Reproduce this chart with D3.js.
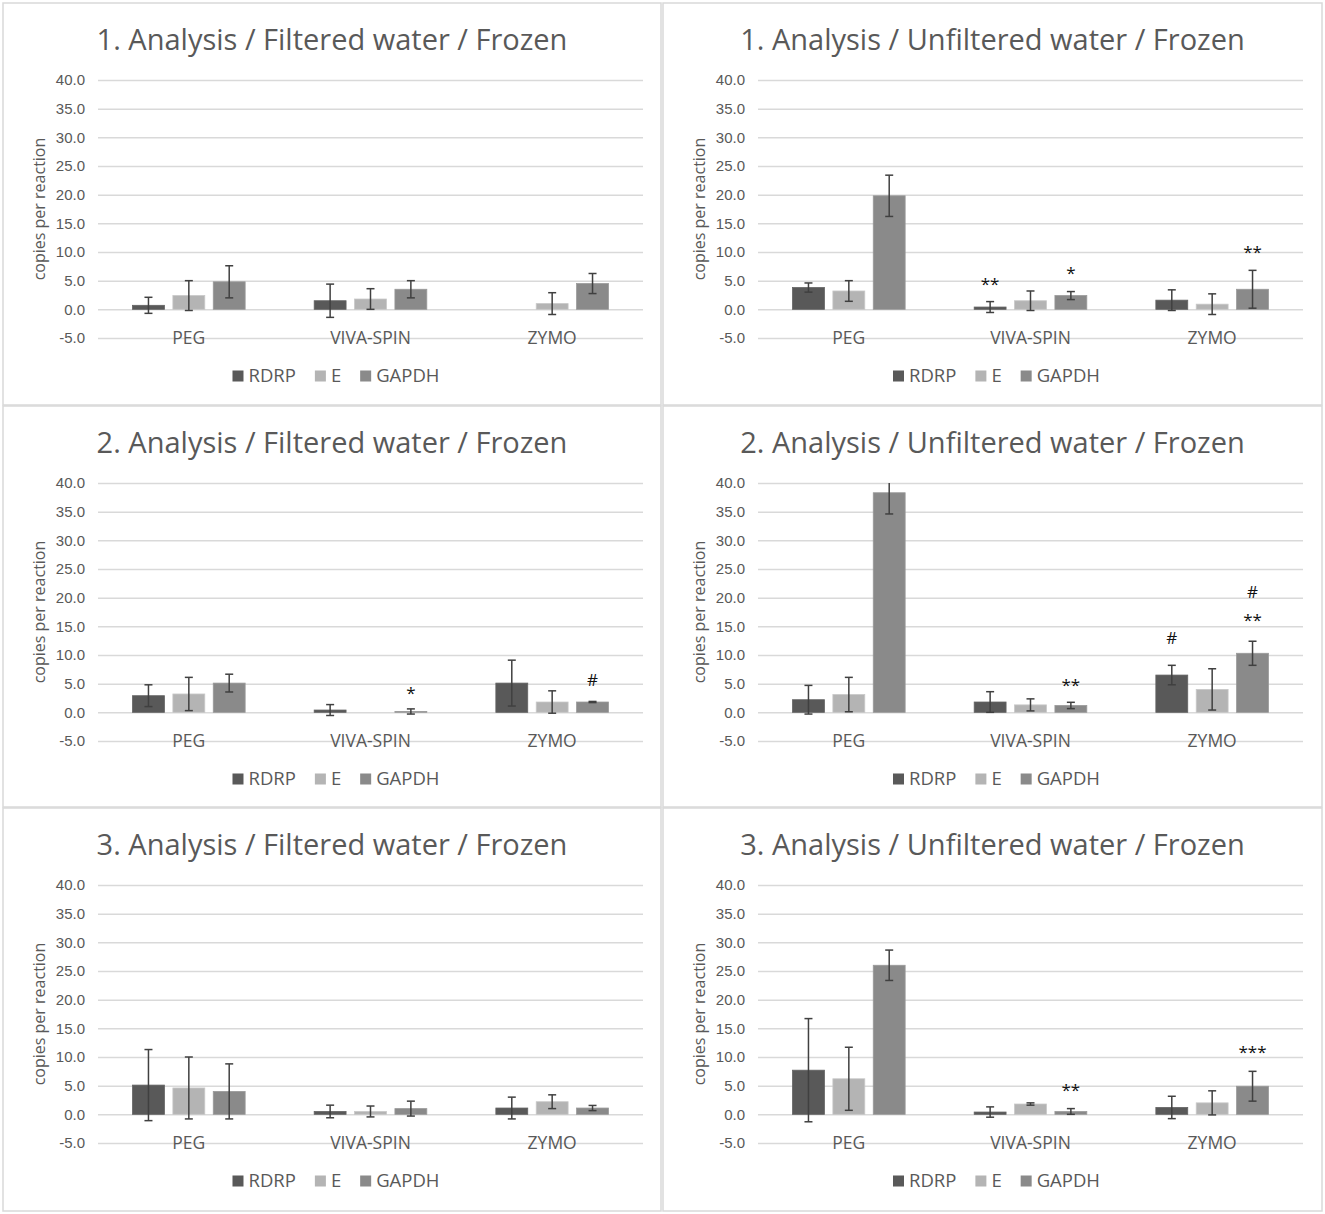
<!DOCTYPE html>
<html>
<head>
<meta charset="utf-8">
<script src="https://cdn.jsdelivr.net/npm/d3@7"></script>
<style>
  body { margin: 0; background: #fff; }
  svg { display: block; font-family: "Open Sans", Lato, sans-serif; }
</style>
</head>
<body>
<div id="chart"></div>
<script>
// categories and series
var methods = ["PEG", "VIVA-SPIN", "ZYMO"];
var targets = ["RDRP", "E", "GAPDH"];
var yTicks = [-5, 0, 5, 10, 15, 20, 25, 30, 35, 40];

var titles = [
  "1. Analysis / Filtered water / Frozen",
  "1. Analysis / Unfiltered water / Frozen",
  "2. Analysis / Filtered water / Frozen",
  "2. Analysis / Unfiltered water / Frozen",
  "3. Analysis / Filtered water / Frozen",
  "3. Analysis / Unfiltered water / Frozen"
];

// means, one row per method: [RDRP, E, GAPDH]   (null = no bar)
var a1Filtered   = [[0.7, 2.4, 4.8], [1.5, 1.8, 3.5], [null, 1.0, 4.5]];
var a1Unfiltered = [[3.8, 3.2, 19.8], [0.4, 1.5, 2.4], [1.6, 0.9, 3.5]];
var a2Filtered   = [[2.9, 3.2, 5.1], [0.4, null, 0.15], [5.1, 1.8, 1.8]];
var a2Unfiltered = [[2.2, 3.1, 38.3], [1.8, 1.3, 1.2], [6.5, 4.0, 10.3]];
var a3Filtered   = [[5.1, 4.6, 4.0], [0.5, 0.5, 1.0], [1.1, 2.2, 1.1]];
var a3Unfiltered = [[7.7, 6.2, 26.0], [0.4, 1.8, 0.5], [1.2, 2.0, 4.9]];

// error bar half widths
var a1FilteredErr   = [[1.4, 2.6, 2.8], [2.9, 1.8, 1.5], [null, 1.9, 1.75]];
var a1UnfilteredErr = [[0.8, 1.8, 3.6], [0.95, 1.7, 0.7], [1.8, 1.8, 3.3]];
var a2FilteredErr   = [[1.9, 2.9, 1.55], [0.95, null, 0.45], [4.0, 1.95, 0.1]];
var a2UnfilteredErr = [[2.5, 3.0, 3.7], [1.8, 1.05, 0.55], [1.7, 3.6, 2.1]];
var a3FilteredErr   = [[6.2, 5.4, 4.8], [1.1, 0.95, 1.3], [1.9, 1.2, 0.45]];
var a3UnfilteredErr = [[9.0, 5.5, 2.65], [0.9, 0.2, 0.5], [1.95, 2.1, 2.6]];

// significance marks: [method, target, label, y value]
var a1FilteredMarks   = [];
var a1UnfilteredMarks = [["VIVA-SPIN", "RDRP", "**", 5.2], ["VIVA-SPIN", "GAPDH", "*", 7.1], ["ZYMO", "GAPDH", "**", 10.7]];
var a2FilteredMarks   = [["VIVA-SPIN", "GAPDH", "*", 4.1], ["ZYMO", "GAPDH", "#", 5.7]];
var a2UnfilteredMarks = [["VIVA-SPIN", "GAPDH", "**", 5.4], ["ZYMO", "RDRP", "#", 13.0], ["ZYMO", "GAPDH", "**", 16.8], ["ZYMO", "GAPDH", "#", 21.0]];
var a3FilteredMarks   = [];
var a3UnfilteredMarks = [["VIVA-SPIN", "GAPDH", "**", 5.0], ["ZYMO", "GAPDH", "***", 11.6]];

var means = [a1Filtered, a1Unfiltered, a2Filtered, a2Unfiltered, a3Filtered, a3Unfiltered];
var errs = [a1FilteredErr, a1UnfilteredErr, a2FilteredErr, a2UnfilteredErr, a3FilteredErr, a3UnfilteredErr];
var marks = [a1FilteredMarks, a1UnfilteredMarks, a2FilteredMarks, a2UnfilteredMarks, a3FilteredMarks, a3UnfilteredMarks];

var colors = d3.scaleOrdinal().domain(targets).range(["#595959", "#b4b4b4", "#8a8a8a"]);
var textColor = "#595959";
var gridColor = "#d9d9d9";

var W = 1325, H = 1214;
var colX = [3, 663], colW = [658, 659];
var rowY = [3, 406, 808], rowH = [402, 401, 403];

var svg = d3.select("#chart").append("svg")
  .attr("width", W)
  .attr("height", H);

function drawPanel(i) {
  var px = colX[i % 2], py = rowY[Math.floor(i / 2)];
  var pw = colW[i % 2], ph = rowH[Math.floor(i / 2)];
  var g = svg.append("g").attr("transform", "translate(" + px + "," + py + ")");

  g.append("rect")
    .attr("x", 0).attr("y", 0).attr("width", pw).attr("height", ph)
    .attr("fill", "#fff").attr("stroke", gridColor).attr("stroke-width", 1.5);

  g.append("text")
    .attr("x", pw / 2).attr("y", 47)
    .attr("text-anchor", "middle")
    .attr("fill", textColor)
    .style("font-size", "29px")
    .text(titles[i]);

  var left = 95, right = 640;
  var y = d3.scaleLinear().domain([-5, 40]).range([335, 77]);
  var x = d3.scaleBand().domain(methods).range([left, right]);
  var bw = x.bandwidth();
  var xi = d3.scaleBand().domain(targets).range([bw * 0.19, bw * 0.81]).paddingInner(0.21);

  // gridlines + tick labels
  var yAxis = g.append("g")
    .attr("transform", "translate(" + left + ",0)")
    .call(d3.axisLeft(y).tickValues(yTicks).tickFormat(function (d) { return d.toFixed(1); })
      .tickSize(-(right - left)).tickPadding(13));
  yAxis.select(".domain").remove();
  yAxis.selectAll(".tick line").attr("stroke", gridColor).attr("stroke-width", 1.5);
  yAxis.selectAll(".tick text").attr("fill", textColor)
    .style("font-size", "15px").style("font-family", null);

  // y title
  g.append("text")
    .attr("transform", "translate(36," + (y(-5) + y(40)) / 2 + ") rotate(-90)")
    .attr("text-anchor", "middle")
    .attr("dy", "0.35em")
    .attr("fill", textColor)
    .style("font-size", "16px")
    .text("copies per reaction");

  // category labels
  g.selectAll(".cat").data(methods).enter().append("text")
    .attr("x", function (d) { return x(d) + bw / 2; })
    .attr("y", y(-5) + 6)
    .attr("text-anchor", "middle")
    .attr("fill", textColor)
    .style("font-size", "17.5px")
    .text(function (d) { return d; });

  var clipId = "clip" + i;
  g.append("clipPath").attr("id", clipId).append("rect")
    .attr("x", left).attr("y", y(40)).attr("width", right - left).attr("height", y(-5) - y(40));

  var rows = [];
  methods.forEach(function (m, mi) {
    targets.forEach(function (t, ti) {
      var v = means[i][mi][ti];
      if (v === null) return;
      rows.push({ method: m, target: t, value: v, err: errs[i][mi][ti] });
    });
  });

  var plot = g.append("g").attr("clip-path", "url(#" + clipId + ")");

  plot.selectAll(".bar").data(rows).enter().append("rect")
    .attr("x", function (d) { return x(d.method) + xi(d.target); })
    .attr("width", xi.bandwidth())
    .attr("y", function (d) { return Math.min(y(d.value), y(0)); })
    .attr("height", function (d) { return Math.abs(y(0) - y(d.value)); })
    .attr("fill", function (d) { return colors(d.target); })
    .attr("stroke", function (d) { return d3.color(colors(d.target)).brighter(0.3); })
    .attr("stroke-width", 0.8);

  var eb = plot.selectAll(".err").data(rows.filter(function (d) { return d.err !== null; }))
    .enter().append("g")
    .attr("stroke", "#404040")
    .attr("stroke-width", 1.5);
  var cx = function (d) { return x(d.method) + xi(d.target) + xi.bandwidth() / 2; };
  eb.append("line")
    .attr("x1", cx).attr("x2", cx)
    .attr("y1", function (d) { return y(d.value - d.err); })
    .attr("y2", function (d) { return y(d.value + d.err); });
  eb.append("line")
    .attr("x1", function (d) { return cx(d) - 4; }).attr("x2", function (d) { return cx(d) + 4; })
    .attr("y1", function (d) { return y(d.value + d.err); })
    .attr("y2", function (d) { return y(d.value + d.err); });
  eb.append("line")
    .attr("x1", function (d) { return cx(d) - 4; }).attr("x2", function (d) { return cx(d) + 4; })
    .attr("y1", function (d) { return y(d.value - d.err); })
    .attr("y2", function (d) { return y(d.value - d.err); });

  // significance marks
  g.selectAll(".mark").data(marks[i]).enter().append("text")
    .attr("x", function (d) { return x(d[0]) + xi(d[1]) + xi.bandwidth() / 2; })
    .attr("y", function (d) { return y(d[3]) + (d[2].indexOf("*") >= 0 ? 10 : 6); })
    .attr("text-anchor", "middle")
    .attr("fill", "#111")
    .style("font-size", "17px")
    .text(function (d) { return d[2]; });

  // legend
  var leg = g.append("g").attr("transform", "translate(" + (pw / 2 + 4) + ",373)");
  var items = leg.selectAll(".item").data(targets).enter().append("g");
  items.append("rect")
    .attr("width", 11).attr("height", 11).attr("y", -5.5)
    .attr("fill", function (d) { return colors(d); });
  items.append("text")
    .attr("x", 16).attr("dy", "0.35em")
    .attr("fill", textColor)
    .style("font-size", "18.5px")
    .text(function (d) { return d; });
  // lay out legend items left to right, centred
  var offs = [], pos = 0;
  items.each(function () {
    offs.push(pos);
    pos += this.getBBox().width + 19;
  });
  var total = pos - 19;
  items.attr("transform", function (d, k) { return "translate(" + (offs[k] - total / 2) + ",0)"; });
}

for (var i = 0; i < 6; i++) drawPanel(i);
</script>
</body>
</html>
